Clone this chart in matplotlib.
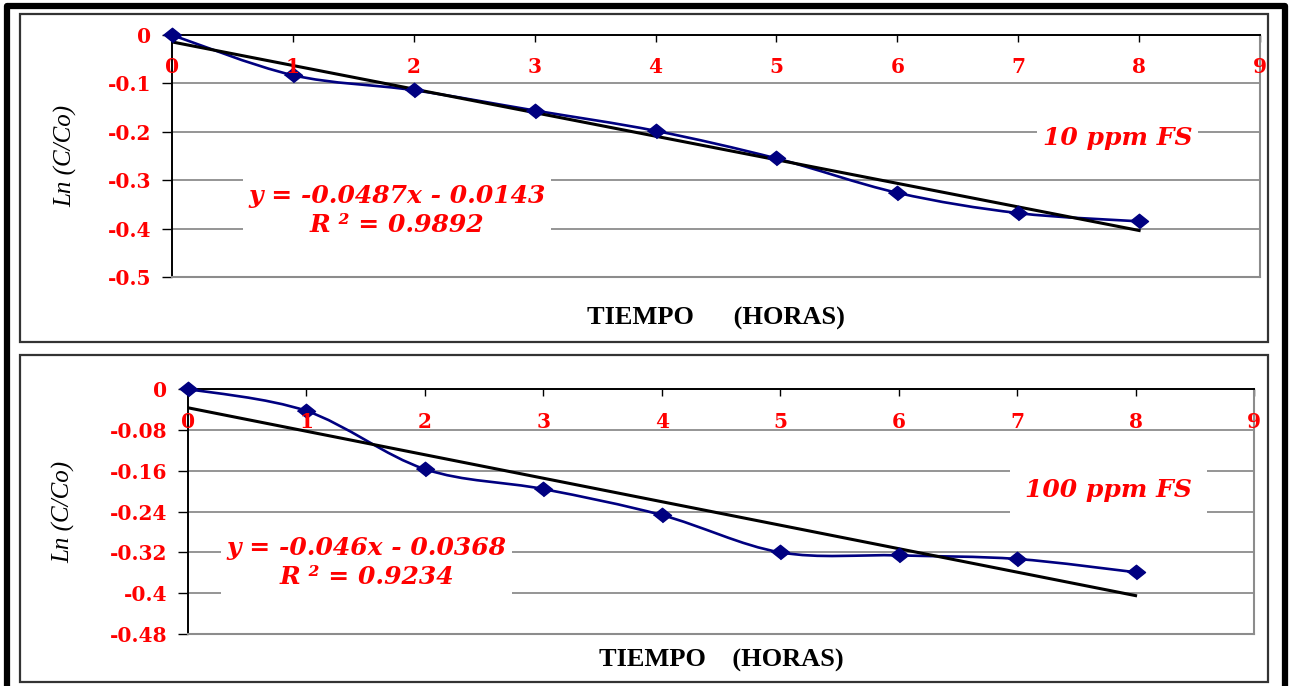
import numpy as np
import matplotlib
matplotlib.use("Agg")
import matplotlib.pyplot as plt
from matplotlib.path import Path
from matplotlib.patches import PathPatch, Rectangle
from matplotlib.lines import Line2D

# -- data ---------------------------------------------------------------
hours = [0, 1, 2, 3, 4, 5, 6, 7, 8]
ln_10ppm = [0.0, -0.083, -0.114, -0.156, -0.198, -0.255, -0.326, -0.368, -0.385]
ln_100ppm = [0.0, -0.043, -0.157, -0.196, -0.247, -0.320, -0.326, -0.333, -0.359]

fit_10ppm = (-0.0487, -0.0143)      # slope, intercept
fit_100ppm = (-0.046, -0.0368)
eq_10ppm = "y = -0.0487x - 0.0143\nR \u00b2 = 0.9892"
eq_100ppm = "y = -0.046x - 0.0368\nR \u00b2 = 0.9234"
name_10ppm = "10 ppm FS"
name_100ppm = "100 ppm FS"

x_ticks = [0, 1, 2, 3, 4, 5, 6, 7, 8, 9]
y_ticks_top = [0, -0.1, -0.2, -0.3, -0.4, -0.5]
y_labels_top = ["0", "-0.1", "-0.2", "-0.3", "-0.4", "-0.5"]
y_ticks_bot = [0, -0.08, -0.16, -0.24, -0.32, -0.4, -0.48]
y_labels_bot = ["0", "-0.08", "-0.16", "-0.24", "-0.32", "-0.4", "-0.48"]

W, H = 1292, 686
RED = "#ff0000"
NAVY = "#000080"
GRID = "#8c8c8c"

fig = plt.figure(figsize=(W / 100, H / 100), dpi=100)


def px_rect(x0, y0, x1, y1):
    # pixel box (top-left origin) -> figure fraction [l, b, w, h]
    return [x0 / W, 1 - y1 / H, (x1 - x0) / W, (y1 - y0) / H]


def smooth_path(xs, ys):
    # Excel-like smoothed line: cubic bezier through the points
    p = np.column_stack([xs, ys]).astype(float)
    n = len(p)
    verts = [p[0]]
    codes = [Path.MOVETO]
    for i in range(n - 1):
        prev = p[i - 1] if i > 0 else p[i]
        nxt = p[i + 2] if i + 2 < n else p[i + 1]
        c1 = p[i] + (p[i + 1] - prev) / 6
        c2 = p[i + 1] - (nxt - p[i]) / 6
        verts += [c1, c2, p[i + 1]]
        codes += [Path.CURVE4] * 3
    return Path(verts, codes)


def draw_panel(rect, ys, fit, eq, name, yticks, ylabels, ylim,
               eq_pos, name_pos, eq_pad, name_pad, ylab_x, xlab_y, xlab):
    ax = fig.add_axes(px_rect(*rect))
    ax.set_xlim(0, 9)
    ax.set_ylim(*ylim)
    ax.set_yticks(yticks)
    ax.set_yticklabels(ylabels)
    ax.set_xticks(x_ticks)
    ax.tick_params(axis="y", direction="out", length=7, width=1, color="black",
                   labelsize=14.5, labelcolor=RED, pad=8)
    ax.tick_params(axis="x", top=True, bottom=False, labeltop=False,
                   labelbottom=False, direction="in", length=5, width=1)
    for lab in ax.get_yticklabels():
        lab.set_fontfamily("DejaVu Serif")
        lab.set_fontweight("bold")
    for xv in x_ticks:
        ax.text(xv, 0.867, str(xv), transform=ax.get_xaxis_transform(),
                ha="center", va="center", color=RED, fontsize=14.5,
                fontfamily="DejaVu Serif", fontweight="bold", zorder=5,
                clip_on=False)

    ax.grid(axis="y", color=GRID, lw=1.3, zorder=0)
    ax.set_axisbelow(True)
    ax.spines["top"].set_color("black")
    ax.spines["top"].set_linewidth(1.4)
    ax.spines["left"].set_color("black")
    ax.spines["left"].set_linewidth(1.4)
    for s in ("right", "bottom"):
        ax.spines[s].set_color(GRID)
        ax.spines[s].set_linewidth(1.5)

    # smoothed data line + markers
    ax.add_patch(PathPatch(smooth_path(hours, ys), fc="none", ec=NAVY,
                           lw=1.9, zorder=3, clip_on=False))
    ax.plot(hours, ys, ls="none", marker=[(-1, 0), (0, 0.8), (1, 0), (0, -0.8)],
            ms=13, color=NAVY, zorder=4, clip_on=False)
    # linear trendline
    xf = np.array([hours[0], hours[-1]])
    ax.plot(xf, fit[0] * xf + fit[1], color="black", lw=2.2, zorder=3)

    ax.text(eq_pos[0], eq_pos[1], eq, ha="center", va="center",
            multialignment="center", color=RED, fontsize=18,
            fontfamily="DejaVu Serif", fontweight="bold", fontstyle="italic",
            linespacing=1.25, zorder=2,
            bbox=dict(fc="white", ec="none", pad=eq_pad))
    ax.text(name_pos[0], name_pos[1], name, ha="center", va="center",
            color=RED, fontsize=18, fontfamily="DejaVu Serif",
            fontweight="bold", fontstyle="italic", zorder=2,
            bbox=dict(fc="white", ec="none", pad=name_pad))

    ax.set_ylabel("Ln (C/Co)", fontsize=18, fontfamily="Liberation Serif",
                  fontstyle="italic", color="black")
    ax.yaxis.set_label_coords(ylab_x, 0.5)
    ax.yaxis.label.set_va("center")
    ax.set_xlabel(xlab, fontsize=19, fontfamily="Liberation Serif",
                  fontweight="bold", color="black")
    ax.xaxis.set_label_position("bottom")
    ax.xaxis.set_label_coords(0.5, xlab_y)
    ax.xaxis.label.set_va("center")
    return ax


draw_panel((172, 35, 1260, 277), ln_10ppm, fit_10ppm, eq_10ppm, name_10ppm,
           y_ticks_top, y_labels_top, (-0.5, 0),
           eq_pos=(1.86, -0.362), name_pos=(7.82, -0.212), eq_pad=4, name_pad=4,
           ylab_x=-0.098, xlab_y=-0.17, xlab="TIEMPO      (HORAS)")

draw_panel((188, 389, 1254, 634), ln_100ppm, fit_100ppm, eq_100ppm, name_100ppm,
           y_ticks_bot, y_labels_bot, (-0.48, 0),
           eq_pos=(1.51, -0.34), name_pos=(7.77, -0.198), eq_pad=4, name_pad=11,
           ylab_x=-0.117, xlab_y=-0.11, xlab="TIEMPO    (HORAS)")

# panel frames
for (x0, y0, x1, y1) in [(20, 14, 1268, 342), (20, 355, 1268, 682)]:
    fig.add_artist(Rectangle((x0 / W, 1 - y1 / H), (x1 - x0) / W, (y1 - y0) / H,
                             transform=fig.transFigure, fc="none", ec="#333333",
                             lw=1.6))

# outer thick border (bottom runs off the picture)
fig.add_artist(Line2D([7 / W, 7 / W, 1285 / W, 1285 / W],
                      [-0.05, 1 - 6 / H, 1 - 6 / H, -0.05],
                      transform=fig.transFigure, color="black", lw=4.5))

fig.savefig("out.png", dpi=100)
